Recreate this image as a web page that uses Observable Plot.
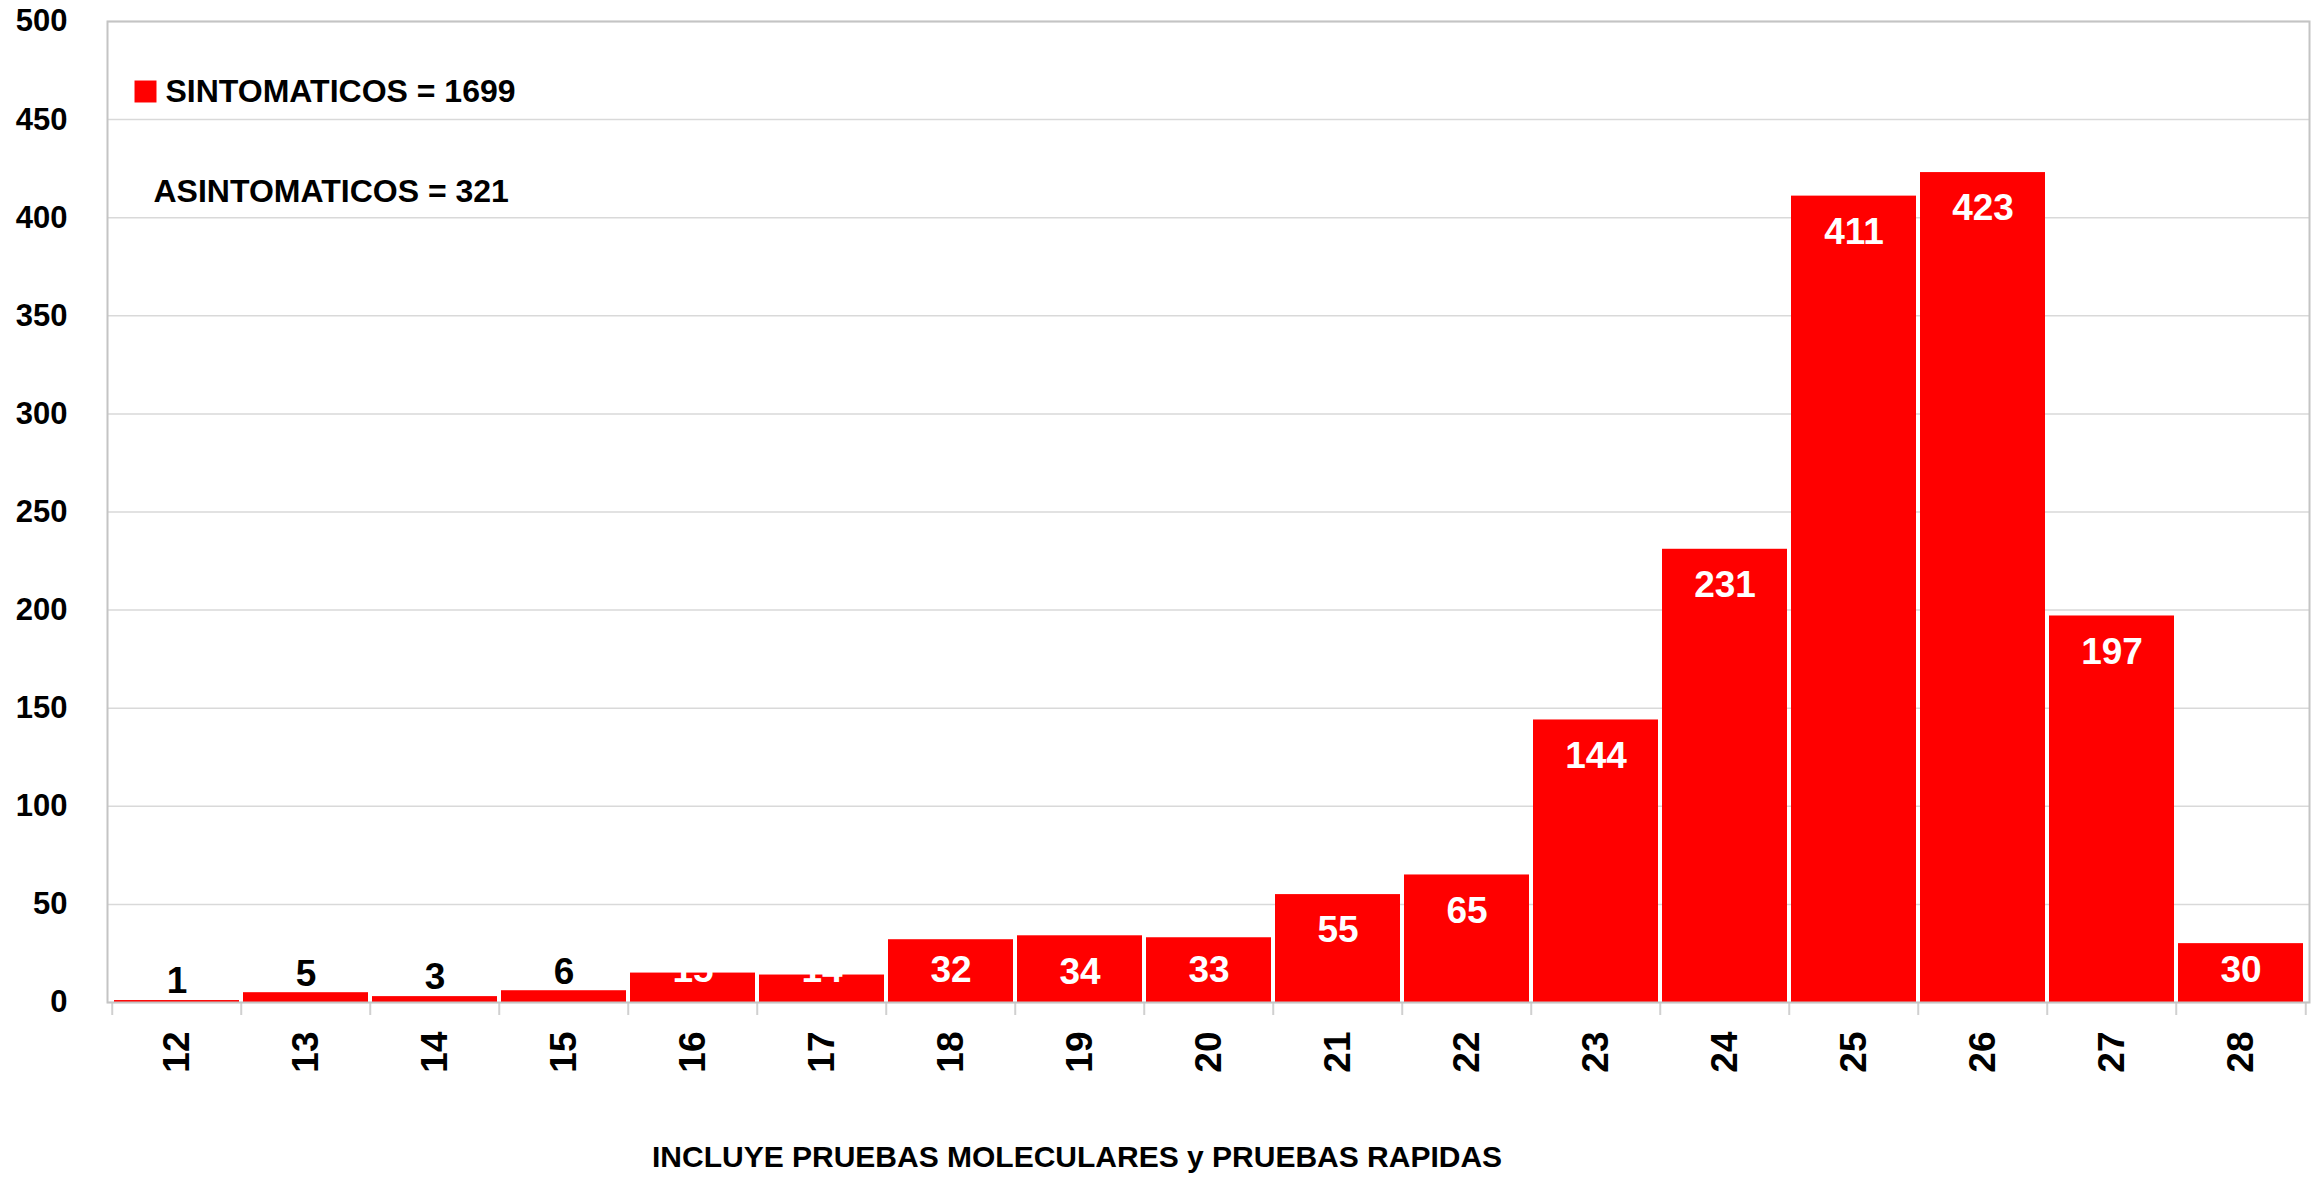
<!DOCTYPE html>
<html><head><meta charset="utf-8">
<script src="https://cdn.jsdelivr.net/npm/d3@7"></script>
<script src="https://cdn.jsdelivr.net/npm/@observablehq/plot@0.6"></script>
<style>
body{margin:0;background:#fff;}
#wrap{position:relative;width:2323px;height:1178px;font-family:"Liberation Sans",Arial,sans-serif;}
#caption{position:absolute;left:652px;top:1142px;font-size:30px;font-weight:bold;line-height:1;white-space:nowrap;color:#000;}
</style></head><body>
<div id="wrap"><div id="chart"></div><div id="caption"></div></div>
<script>
const weeks = [12,13,14,15,16,17,18,19,20,21,22,23,24,25,26,27,28];
const cases = [1,5,3,6,15,14,32,34,33,55,65,144,231,411,423,197,30];
const yTicks = [0,50,100,150,200,250,300,350,400,450,500];
const legendLabel = "SINTOMATICOS = 1699";
const noteLabel = "ASINTOMATICOS = 321";
const captionText = "INCLUYE PRUEBAS MOLECULARES y PRUEBAS RAPIDAS";
const barColor = "#ff0000";

const data = weeks.map((w, i) => ({week: w, value: cases[i]}));
const W = 2323, H = 1120, ml = 107, mr = 14, mt = 21, mb = 118;
const bw = (W - ml - mr) / weeks.length;
const FONT = "Liberation Sans, Arial, sans-serif";

const chart = Plot.plot({
  width: W, height: H,
  marginLeft: ml, marginRight: mr, marginTop: mt, marginBottom: mb,
  style: {fontFamily: FONT, fontWeight: "bold", background: "#fff", color: "#000", overflow: "visible"},
  x: {type: "band", domain: weeks, padding: 0, axis: null},
  y: {domain: [0, 500], axis: null},
  marks: [
    Plot.gridY(yTicks, {stroke: "#d9d9d9", strokeOpacity: 1, strokeWidth: 1.5}),
    Plot.axisY(yTicks, {label: null, tickSize: 0, tickPadding: 40, fontSize: 31, fontWeight: "bold", fill: "#000"}),
    Plot.axisX(weeks, {label: null, tickSize: 0, tickPadding: 29, tickRotate: -90, fontSize: 37, fontWeight: "bold", fill: "#000"}),
    Plot.axisX(weeks, {label: null, tickSize: 13, tickFormat: () => "", dx: -bw / 2, stroke: "#d0d0d0", strokeWidth: 2}),
    Plot.axisX([weeks[weeks.length - 1]], {label: null, tickSize: 13, tickFormat: () => "", dx: bw / 2, stroke: "#d0d0d0", strokeWidth: 2}),
    Plot.barY(data, {x: "week", y: "value", fill: barColor, insetLeft: 2, insetRight: 2}),
    Plot.frame({stroke: "#c4c4c4", strokeWidth: 2}),
    Plot.text(data.filter(d => d.value < 10), {x: "week", y: "value", text: "value", dy: -19, fontSize: 37, fill: "#000"}),
    Plot.text(data.filter(d => d.value >= 10 && d.value < 34), {x: "week", y: 0, text: "value", dy: -32, fontSize: 37, fill: "#fff"}),
    Plot.text(data.filter(d => d.value >= 34), {x: "week", y: "value", text: "value", dy: 36, fontSize: 37, fill: "#fff"}),
    Plot.dot([legendLabel], {frameAnchor: "top-left", dx: 38, dy: 70, symbol: "square", r: 12.4, fill: barColor, stroke: null}),
    Plot.text([legendLabel], {frameAnchor: "top-left", lineAnchor: "middle", dx: 58, dy: 70, text: d => d, textAnchor: "start", fontSize: 32, fill: "#000"}),
    Plot.text([noteLabel], {frameAnchor: "top-left", lineAnchor: "middle", dx: 46, dy: 170, text: d => d, textAnchor: "start", fontSize: 32, fill: "#000"})
  ]
});
document.getElementById("chart").appendChild(chart);
document.getElementById("caption").textContent = captionText;
</script>
</body></html>
